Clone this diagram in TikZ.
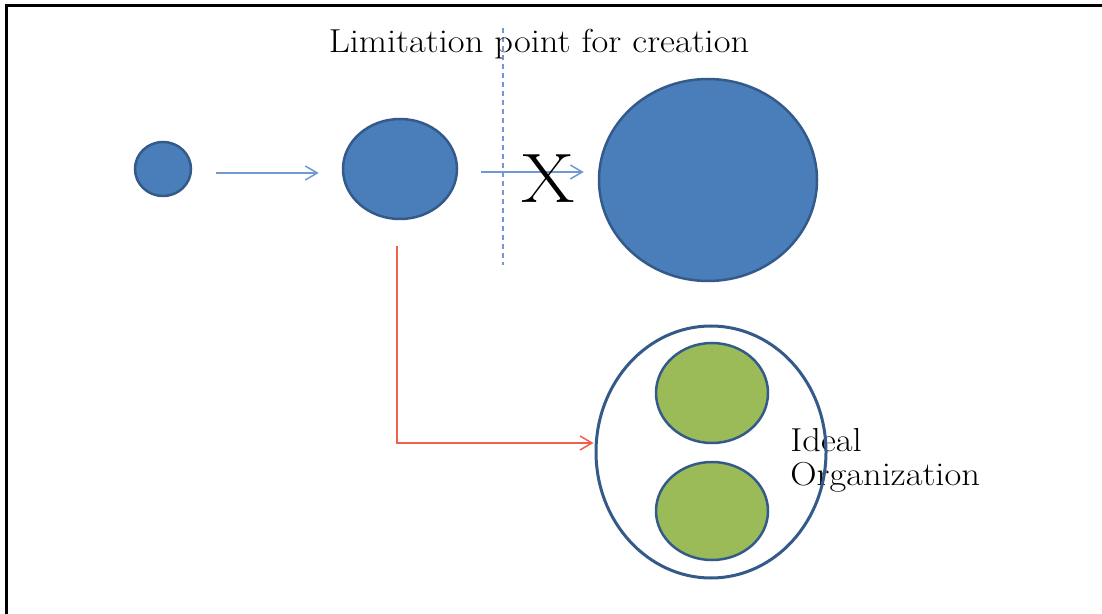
\documentclass[tikz,border=0pt]{standalone}
\usetikzlibrary{arrows.meta,shapes.geometric}

\definecolor{blobfill}{RGB}{74,126,187}
\definecolor{blobline}{RGB}{52,90,138}
\definecolor{cellfill}{RGB}{155,187,89}
\definecolor{linkblue}{RGB}{112,152,210}
\definecolor{linkred}{RGB}{240,96,76}

\newcommand{\wide}[1]{\scalebox{1.1}[1]{#1}}

\begin{document}
\begin{tikzpicture}[
  x=0.5pt,y=-0.5pt,
  >={Straight Barb[length=6pt,width=7pt]},
  every node/.style={font=\fontsize{16.6}{17}\selectfont,inner sep=0pt},
  blob/.style={ellipse,draw=blobline,line width=1.25pt,fill=blobfill},
  cell/.style={blob,fill=cellfill},
  link/.style={->,draw=linkblue,line width=0.75pt}
]
  \useasboundingbox (0,0) rectangle (1102,614);
  \draw[line width=1.5pt] (6.5,614) -- (6.5,5.5) -- (1102,5.5);

  % growth of a single unit
  \node[blob,minimum width=28pt,minimum height=27pt] (small) at (163,169) {};
  \node[blob,minimum width=57pt,minimum height=50pt] (medium) at (400,169) {};
  \node[blob,minimum width=109pt,minimum height=101pt] (large) at (708,180) {};

  \coordinate (limTop) at (503,28);
  \coordinate (limBot) at (503,265);
  \draw[linkblue,line width=0.75pt,dash pattern=on 2.5pt off 2pt] (limTop) -- (limBot);
  \node[anchor=base] (limit) at (539,53) {\wide{Limitation point for creation}};

  \draw[link,shorten <=12pt,shorten >=11.5pt] ([yshift=-2pt]small.east) -- ([yshift=-2pt]medium.west);
  \draw[link,shorten <=11.5pt,shorten >=7pt] ([yshift=-1.5pt]medium.east) -- ([yshift=-1.5pt]medium.east -| large.west);
  \node[anchor=base,font=\fontsize{35}{40}\selectfont] (block) at (548,203) {\wide{X}};

  % organization of several units
  \node[anchor=north west,align=left] (ideal) at (790,428) {\wide{Ideal}\\\wide{Organization}};
  \node[ellipse,draw=blobline,line width=1.5pt,minimum width=115pt,minimum height=126pt] (org) at (711,452) {};
  \node[cell,minimum width=56pt,minimum height=50pt] (cellA) at (712,393) {};
  \node[cell,minimum width=56pt,minimum height=49pt] (cellB) at (712,511) {};

  \draw[->,draw=linkred,line width=0.75pt,shorten <=13pt,shorten >=0.5pt]
    ([xshift=-1.5pt]medium.south) |- ([yshift=4.5pt]org.west);
\end{tikzpicture}
\end{document}
